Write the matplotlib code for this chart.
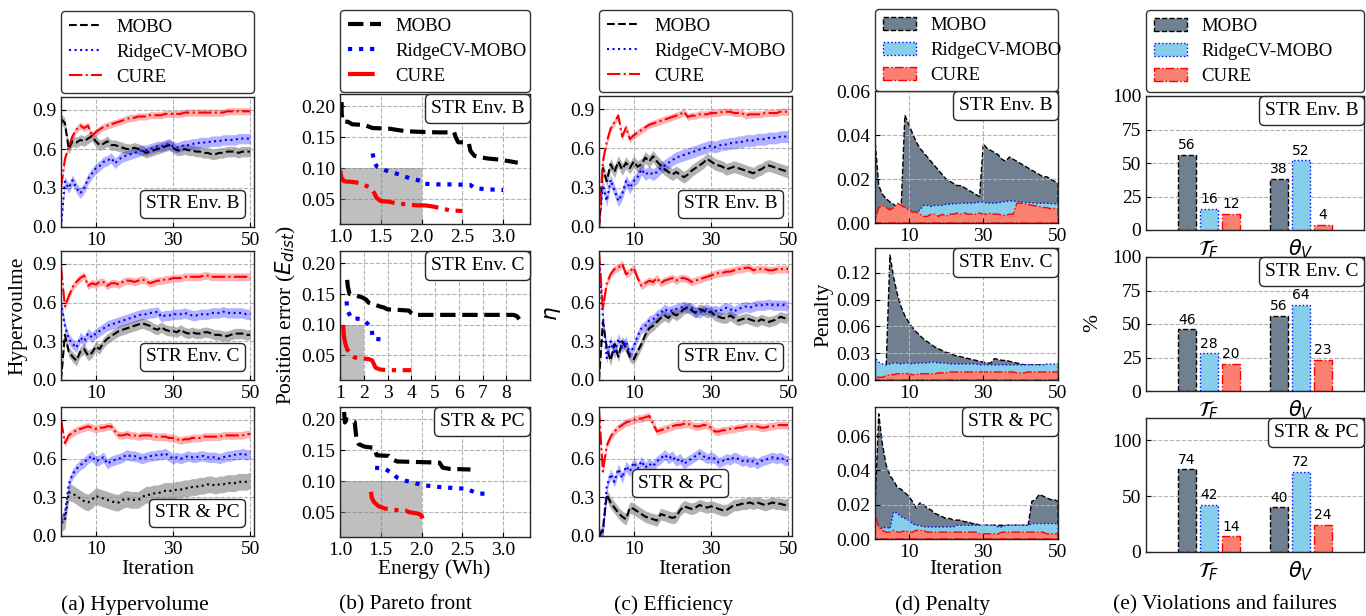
import matplotlib
matplotlib.use("Agg")
import matplotlib.pyplot as plt
from matplotlib.patches import Patch
from matplotlib.lines import Line2D
from matplotlib.offsetbox import AnchoredText
from matplotlib.ticker import FormatStrFormatter
import numpy as np

plt.rcParams.update({
    "font.family": "serif",
    "font.serif": ["Liberation Serif", "DejaVu Serif"],
    "mathtext.fontset": "dejavusans",
    "axes.linewidth": 1.0,
    "axes.edgecolor": "0.15",
    "xtick.direction": "in",
    "ytick.direction": "in",
    "xtick.labelsize": 14,
    "ytick.labelsize": 14,
})

# ---------------------------------------------------------------- data
methods = ["MOBO", "RidgeCV-MOBO", "CURE"]
envs = ["STR Env. B", "STR Env. C", "STR & PC"]
iters = np.arange(1, 51)

# (a) hypervolume, mean per iteration
mobo_b_hv = [0.83,0.80,0.60,0.66,0.65,0.67,0.66,0.68,0.70,0.66,0.63,0.64,0.66,0.63,0.63,0.62,0.61,0.60,0.60,0.61,0.60,0.59,0.57,0.58,0.59,0.60,0.61,0.62,0.63,0.61,0.59,0.59,0.60,0.59,0.59,0.58,0.58,0.57,0.57,0.56,0.56,0.57,0.57,0.58,0.58,0.58,0.57,0.58,0.58,0.58]
ridge_b_hv = [0.00,0.35,0.30,0.36,0.30,0.26,0.30,0.37,0.41,0.45,0.47,0.50,0.51,0.53,0.49,0.52,0.54,0.55,0.56,0.57,0.58,0.59,0.59,0.60,0.61,0.62,0.62,0.63,0.64,0.62,0.61,0.62,0.63,0.63,0.64,0.64,0.65,0.65,0.65,0.66,0.66,0.66,0.67,0.67,0.67,0.67,0.68,0.68,0.68,0.68]
cure_b_hv = [0.30,0.52,0.62,0.70,0.75,0.78,0.76,0.78,0.70,0.73,0.75,0.77,0.78,0.79,0.80,0.81,0.82,0.83,0.84,0.84,0.85,0.85,0.85,0.86,0.86,0.86,0.86,0.87,0.87,0.87,0.87,0.87,0.88,0.88,0.88,0.88,0.88,0.88,0.88,0.88,0.88,0.88,0.88,0.89,0.89,0.89,0.89,0.89,0.89,0.89]
mobo_c_hv = [0.00,0.35,0.22,0.18,0.15,0.22,0.24,0.19,0.21,0.26,0.24,0.29,0.32,0.34,0.36,0.38,0.39,0.40,0.41,0.42,0.43,0.44,0.43,0.42,0.40,0.39,0.41,0.39,0.38,0.38,0.37,0.39,0.37,0.36,0.37,0.36,0.36,0.37,0.37,0.36,0.35,0.35,0.34,0.34,0.35,0.36,0.36,0.36,0.35,0.35]
ridge_c_hv = [0.60,0.42,0.32,0.28,0.25,0.33,0.30,0.36,0.33,0.36,0.38,0.40,0.42,0.43,0.44,0.45,0.46,0.47,0.48,0.49,0.50,0.51,0.51,0.52,0.52,0.53,0.49,0.50,0.50,0.51,0.51,0.51,0.52,0.51,0.50,0.50,0.51,0.51,0.51,0.52,0.52,0.52,0.53,0.52,0.52,0.52,0.52,0.52,0.51,0.51]
cure_c_hv = [0.88,0.57,0.65,0.72,0.76,0.79,0.81,0.73,0.75,0.74,0.76,0.76,0.73,0.75,0.75,0.74,0.76,0.77,0.77,0.76,0.77,0.78,0.77,0.75,0.76,0.77,0.77,0.78,0.78,0.79,0.79,0.79,0.80,0.80,0.80,0.80,0.80,0.81,0.81,0.80,0.80,0.80,0.80,0.80,0.80,0.80,0.80,0.80,0.80,0.80]
mobo_pc_hv = [0.10,0.12,0.34,0.33,0.31,0.29,0.27,0.26,0.28,0.31,0.30,0.29,0.28,0.27,0.26,0.26,0.28,0.29,0.28,0.28,0.28,0.30,0.32,0.32,0.33,0.33,0.34,0.35,0.35,0.35,0.36,0.36,0.37,0.37,0.38,0.38,0.39,0.39,0.40,0.40,0.39,0.40,0.40,0.41,0.41,0.41,0.42,0.42,0.42,0.43]
ridge_pc_hv = [0.12,0.17,0.40,0.48,0.52,0.55,0.57,0.60,0.62,0.58,0.59,0.61,0.56,0.58,0.59,0.60,0.61,0.63,0.62,0.62,0.61,0.60,0.61,0.62,0.62,0.63,0.63,0.64,0.62,0.60,0.61,0.60,0.61,0.62,0.61,0.61,0.62,0.62,0.61,0.61,0.61,0.60,0.61,0.62,0.62,0.63,0.63,0.64,0.63,0.63]
cure_pc_hv = [0.90,0.72,0.78,0.80,0.82,0.83,0.84,0.85,0.84,0.83,0.84,0.84,0.85,0.85,0.81,0.78,0.78,0.79,0.78,0.78,0.77,0.78,0.78,0.78,0.77,0.77,0.77,0.77,0.76,0.76,0.75,0.74,0.75,0.75,0.76,0.76,0.76,0.77,0.77,0.77,0.77,0.77,0.78,0.78,0.78,0.78,0.78,0.78,0.79,0.79]
# half-width of the spread band (MOBO, RidgeCV-MOBO, CURE) per environment
hv_band_b = [0.040, 0.040, 0.027]
hv_band_c = [0.040, 0.040, 0.030]
hv_band_pc = [0.065, 0.040, 0.030]

# (b) Pareto fronts: energy (Wh) vs position error
mobo_b_E = [1.02,1.02,1.03,1.10,1.15,1.30,1.40,1.60,1.80,1.95,2.20,2.40,2.42,2.45,2.55,2.58,2.60,2.65,2.80,2.95,3.05,3.18]
mobo_b_P = [0.207,0.190,0.176,0.175,0.171,0.170,0.165,0.164,0.160,0.159,0.158,0.158,0.150,0.142,0.142,0.140,0.128,0.120,0.116,0.114,0.112,0.109]
ridge_b_E = [1.40,1.42,1.45,1.55,1.65,1.75,1.85,1.95,2.00,2.02,2.20,2.40,2.60,2.65,2.80,3.00]
ridge_b_P = [0.124,0.110,0.103,0.097,0.093,0.089,0.084,0.081,0.079,0.075,0.074,0.074,0.073,0.068,0.066,0.065]
cure_b_E = [1.00,1.02,1.05,1.15,1.25,1.30,1.38,1.42,1.45,1.50,1.60,1.70,1.80,1.95,2.05,2.15,2.25,2.35,2.50]
cure_b_P = [0.097,0.084,0.079,0.078,0.076,0.073,0.068,0.060,0.052,0.047,0.046,0.043,0.042,0.040,0.040,0.038,0.035,0.032,0.031]
mobo_c_E = [1.30,1.33,1.40,1.60,1.90,2.10,2.20,2.45,2.65,2.85,3.00,3.50,3.90,4.00,4.10,5.00,6.00,7.00,8.30,8.45,8.55]
mobo_c_P = [0.173,0.162,0.150,0.148,0.145,0.141,0.136,0.133,0.130,0.128,0.125,0.124,0.123,0.119,0.116,0.116,0.116,0.116,0.116,0.114,0.109]
ridge_c_E = [1.28,1.30,1.35,1.50,1.70,1.85,2.05,2.20,2.33,2.38,2.50,2.75]
ridge_c_P = [0.138,0.124,0.120,0.110,0.110,0.109,0.106,0.100,0.093,0.078,0.077,0.076]
cure_c_E = [1.14,1.15,1.17,1.22,1.30,1.45,1.60,1.80,2.00,2.20,2.35,2.40,2.50,2.70,3.00,3.50,4.00]
cure_c_P = [0.098,0.090,0.080,0.070,0.060,0.052,0.047,0.045,0.045,0.044,0.042,0.038,0.030,0.027,0.026,0.026,0.026]
mobo_pc_E = [1.05,1.06,1.08,1.18,1.20,1.23,1.30,1.42,1.45,1.60,1.65,1.70,2.00,2.22,2.26,2.35,2.60]
mobo_pc_P = [0.212,0.195,0.200,0.196,0.170,0.160,0.156,0.154,0.142,0.141,0.135,0.132,0.131,0.130,0.122,0.120,0.119]
ridge_pc_E = [1.43,1.55,1.63,1.70,1.80,1.90,2.00,2.20,2.40,2.55,2.62,2.70,2.80]
ridge_pc_P = [0.122,0.120,0.114,0.106,0.101,0.098,0.094,0.091,0.089,0.088,0.084,0.080,0.080]
cure_pc_E = [1.38,1.39,1.42,1.47,1.55,1.65,1.75,1.80,1.85,1.90,1.95,2.00,2.01]
cure_pc_P = [0.083,0.073,0.066,0.060,0.056,0.054,0.053,0.053,0.050,0.049,0.048,0.045,0.040]
# target region: energy up to 2 Wh, error up to 0.10
target_E = (1.0, 2.0)
target_P = 0.10

# (c) efficiency eta
mobo_b_eta = [0.00,0.45,0.35,0.48,0.42,0.50,0.44,0.49,0.45,0.50,0.46,0.48,0.53,0.50,0.54,0.50,0.47,0.44,0.42,0.40,0.42,0.40,0.38,0.40,0.43,0.45,0.47,0.49,0.52,0.50,0.48,0.47,0.46,0.44,0.45,0.46,0.45,0.44,0.43,0.42,0.41,0.43,0.44,0.46,0.47,0.46,0.45,0.44,0.43,0.42]
ridge_b_eta = [0.00,0.32,0.20,0.36,0.28,0.20,0.25,0.35,0.30,0.35,0.38,0.44,0.40,0.42,0.40,0.42,0.45,0.47,0.49,0.51,0.53,0.54,0.55,0.56,0.57,0.58,0.59,0.60,0.61,0.62,0.61,0.62,0.63,0.63,0.64,0.64,0.65,0.65,0.66,0.66,0.66,0.67,0.67,0.67,0.68,0.68,0.68,0.69,0.69,0.69]
cure_b_eta = [0.00,0.50,0.65,0.75,0.80,0.85,0.69,0.76,0.67,0.70,0.72,0.74,0.76,0.78,0.79,0.80,0.81,0.82,0.83,0.84,0.85,0.86,0.88,0.84,0.85,0.85,0.86,0.86,0.86,0.87,0.87,0.87,0.88,0.88,0.88,0.87,0.87,0.87,0.85,0.86,0.86,0.86,0.86,0.87,0.87,0.87,0.87,0.88,0.88,0.88]
mobo_c_eta = [0.00,0.45,0.25,0.15,0.28,0.18,0.30,0.25,0.18,0.16,0.22,0.28,0.35,0.40,0.42,0.45,0.48,0.50,0.48,0.52,0.50,0.52,0.55,0.56,0.54,0.52,0.55,0.54,0.52,0.53,0.50,0.49,0.48,0.48,0.50,0.48,0.46,0.47,0.48,0.47,0.46,0.45,0.47,0.46,0.45,0.46,0.47,0.49,0.48,0.48]
ridge_c_eta = [0.90,0.50,0.17,0.30,0.20,0.32,0.25,0.30,0.20,0.26,0.34,0.40,0.42,0.46,0.47,0.50,0.52,0.55,0.53,0.54,0.55,0.56,0.57,0.56,0.56,0.53,0.52,0.54,0.55,0.53,0.54,0.53,0.55,0.56,0.55,0.53,0.55,0.56,0.57,0.56,0.57,0.58,0.58,0.58,0.59,0.58,0.58,0.58,0.58,0.57]
cure_c_eta = [1.00,0.55,0.75,0.82,0.86,0.87,0.90,0.82,0.84,0.87,0.79,0.73,0.75,0.77,0.76,0.79,0.75,0.77,0.78,0.79,0.77,0.79,0.79,0.78,0.76,0.77,0.78,0.79,0.80,0.81,0.82,0.83,0.83,0.84,0.84,0.85,0.86,0.86,0.87,0.87,0.85,0.86,0.86,0.86,0.85,0.85,0.86,0.86,0.86,0.86]
mobo_pc_eta = [0.00,0.05,0.32,0.26,0.22,0.18,0.15,0.13,0.22,0.21,0.19,0.17,0.15,0.14,0.13,0.12,0.17,0.16,0.15,0.14,0.15,0.20,0.23,0.22,0.21,0.22,0.24,0.23,0.22,0.23,0.22,0.21,0.20,0.20,0.22,0.24,0.24,0.25,0.25,0.26,0.25,0.26,0.25,0.24,0.25,0.26,0.25,0.25,0.24,0.25]
ridge_pc_eta = [0.00,0.02,0.38,0.48,0.42,0.52,0.45,0.54,0.50,0.57,0.52,0.58,0.53,0.56,0.54,0.58,0.60,0.63,0.60,0.62,0.58,0.60,0.56,0.58,0.60,0.62,0.64,0.62,0.60,0.61,0.60,0.57,0.58,0.60,0.59,0.61,0.60,0.58,0.59,0.57,0.58,0.56,0.58,0.59,0.60,0.61,0.60,0.61,0.59,0.58]
cure_pc_eta = [0.98,0.50,0.70,0.77,0.81,0.84,0.86,0.88,0.89,0.90,0.91,0.91,0.92,0.93,0.87,0.81,0.82,0.83,0.84,0.85,0.86,0.86,0.87,0.87,0.86,0.85,0.85,0.86,0.86,0.84,0.81,0.81,0.82,0.82,0.83,0.83,0.84,0.84,0.85,0.85,0.85,0.85,0.84,0.84,0.85,0.85,0.86,0.86,0.86,0.86]
eta_band_b = [0.045, 0.045, 0.027]
eta_band_c = [0.040, 0.040, 0.030]
eta_band_pc = [0.045, 0.040, 0.030]

# (d) penalty
mobo_b_pen = [0.038,0.017,0.013,0.011,0.0096,0.0085,0.0066,0.0070,0.049,0.045,0.041,0.037,0.034,0.032,0.030,0.028,0.026,0.024,0.022,0.020,0.019,0.018,0.017,0.017,0.016,0.015,0.014,0.013,0.012,0.036,0.034,0.033,0.032,0.031,0.029,0.028,0.030,0.029,0.028,0.027,0.026,0.025,0.024,0.023,0.022,0.021,0.021,0.020,0.019,0.018]
ridge_b_pen = [0.001,0.003,0.004,0.004,0.003,0.003,0.004,0.004,0.004,0.004,0.004,0.004,0.006,0.008,0.008,0.0075,0.008,0.008,0.008,0.0085,0.0085,0.0088,0.0088,0.009,0.009,0.009,0.009,0.0092,0.0095,0.0095,0.009,0.009,0.009,0.0092,0.0095,0.0098,0.010,0.010,0.0098,0.0095,0.0095,0.0093,0.0092,0.009,0.009,0.009,0.009,0.0088,0.0088,0.0085]
cure_b_pen = [0.001,0.007,0.008,0.007,0.006,0.007,0.009,0.008,0.007,0.006,0.005,0.005,0.004,0.003,0.003,0.004,0.004,0.003,0.004,0.003,0.004,0.004,0.0045,0.004,0.0045,0.004,0.004,0.004,0.0045,0.004,0.004,0.0045,0.004,0.004,0.0035,0.0035,0.004,0.004,0.009,0.009,0.0088,0.0085,0.008,0.0078,0.0075,0.007,0.007,0.0065,0.0065,0.0065]
mobo_c_pen = [0.015,0.015,0.015,0.016,0.140,0.115,0.096,0.082,0.072,0.065,0.059,0.054,0.050,0.046,0.043,0.040,0.037,0.035,0.033,0.031,0.030,0.028,0.027,0.026,0.025,0.024,0.023,0.022,0.021,0.020,0.019,0.019,0.024,0.023,0.022,0.022,0.021,0.020,0.019,0.018,0.017,0.017,0.017,0.017,0.017,0.017,0.017,0.017,0.017,0.017]
ridge_c_pen = [0.025,0.020,0.018,0.017,0.018,0.019,0.019,0.018,0.019,0.019,0.018,0.019,0.019,0.019,0.019,0.020,0.020,0.019,0.019,0.019,0.018,0.018,0.018,0.018,0.018,0.018,0.018,0.018,0.017,0.017,0.017,0.017,0.017,0.017,0.017,0.017,0.017,0.017,0.017,0.017,0.017,0.017,0.017,0.017,0.017,0.017,0.018,0.018,0.018,0.018]
cure_c_pen = [0.004,0.003,0.003,0.005,0.006,0.006,0.007,0.007,0.007,0.007,0.006,0.006,0.007,0.007,0.007,0.007,0.007,0.008,0.008,0.008,0.009,0.009,0.009,0.009,0.009,0.009,0.009,0.009,0.009,0.009,0.009,0.009,0.009,0.009,0.009,0.009,0.009,0.009,0.008,0.008,0.008,0.009,0.009,0.009,0.009,0.009,0.009,0.009,0.009,0.009]
mobo_pc_pen = [0.018,0.073,0.055,0.043,0.037,0.034,0.030,0.029,0.027,0.025,0.022,0.018,0.021,0.020,0.018,0.017,0.015,0.014,0.013,0.012,0.012,0.011,0.011,0.011,0.010,0.010,0.009,0.009,0.008,0.008,0.008,0.008,0.008,0.008,0.008,0.008,0.008,0.008,0.008,0.008,0.008,0.008,0.022,0.023,0.026,0.025,0.024,0.023,0.023,0.022]
ridge_pc_pen = [0.010,0.007,0.006,0.007,0.006,0.016,0.015,0.013,0.012,0.011,0.009,0.008,0.008,0.007,0.007,0.007,0.007,0.007,0.007,0.007,0.007,0.007,0.008,0.008,0.008,0.008,0.008,0.008,0.008,0.008,0.008,0.008,0.008,0.007,0.007,0.008,0.008,0.008,0.008,0.008,0.008,0.008,0.009,0.009,0.009,0.009,0.009,0.009,0.009,0.009]
cure_pc_pen = [0.014,0.007,0.005,0.004,0.004,0.005,0.004,0.004,0.005,0.004,0.004,0.005,0.005,0.005,0.004,0.004,0.004,0.004,0.004,0.004,0.004,0.004,0.004,0.004,0.004,0.004,0.004,0.004,0.003,0.003,0.003,0.003,0.003,0.003,0.004,0.004,0.004,0.004,0.004,0.004,0.004,0.004,0.004,0.004,0.004,0.004,0.003,0.003,0.003,0.003]

# (e) violations and failures (%) for T_F and theta_V
viol_labels = [r"$\mathcal{T}_F$", r"$\theta_V$"]
mobo_b_viol = [56, 38]
ridge_b_viol = [16, 52]
cure_b_viol = [12, 4]
mobo_c_viol = [46, 56]
ridge_c_viol = [28, 64]
cure_c_viol = [20, 23]
mobo_pc_viol = [74, 40]
ridge_pc_viol = [42, 72]
cure_pc_viol = [14, 24]

# ---------------------------------------------------------------- styles
W, H = 1366, 616
fig = plt.figure(figsize=(W / 100, H / 100), dpi=100)

line_color = {"MOBO": "black", "RidgeCV-MOBO": "blue", "CURE": "red"}
band_color = {"MOBO": ("gray", 0.6), "RidgeCV-MOBO": ("blue", 0.3), "CURE": ("red", 0.3)}
line_style = {"MOBO": "--", "RidgeCV-MOBO": ":", "CURE": "-."}
fill_face = {"MOBO": "slategray", "RidgeCV-MOBO": "skyblue", "CURE": "salmon"}

GRID = dict(color="0.7", linestyle="--", linewidth=0.8)
LEG = dict(fontsize=13.5, fancybox=True, framealpha=1, edgecolor="0.2",
           labelspacing=0.42, handlelength=1.8, handletextpad=0.75,
           borderpad=0.4, borderaxespad=0, mode="expand", loc="upper left")


def add_ax(l, t, r, b):
    return fig.add_axes([l / W, 1 - b / H, (r - l) / W, (b - t) / H])


def env_box(ax, text, loc, borderpad=0.0, anchor=None):
    kw = {}
    if anchor is not None:
        kw = dict(bbox_to_anchor=anchor, bbox_transform=ax.transAxes)
    at = AnchoredText(text, loc=loc, pad=0.3, borderpad=borderpad,
                      prop=dict(size=14), frameon=True, **kw)
    at.patch.set_boxstyle("round,pad=0,rounding_size=0.25")
    at.patch.set_edgecolor("0.15")
    at.patch.set_linewidth(1.0)
    ax.add_artist(at)


def fig_legend(handles, l, t, r):
    fig.legend(handles, methods, bbox_to_anchor=(l / W, 1 - t / H, (r - l) / W, 0.0),
               **LEG).get_frame().set_linewidth(1.0)


def curve_panel(ax, series, bands, mobo_ls="--"):
    for m, y, b in zip(methods, series, bands):
        y = np.asarray(y)
        c, a = band_color[m]
        ax.fill_between(iters, y - b, y + b, color=c, alpha=a, lw=0)
    for m, y in zip(methods, series):
        ls = mobo_ls if m == "MOBO" else line_style[m]
        ax.plot(iters, y, ls=ls, color=line_color[m], lw=1.5)
    ax.set_xlim(1, 51)
    ax.set_ylim(0, 1.0)
    ax.set_xticks([10, 30, 50])
    ax.set_yticks([0.0, 0.3, 0.6, 0.9])
    ax.yaxis.set_major_formatter(FormatStrFormatter("%.1f"))
    ax.grid(True, **GRID)
    ax.set_axisbelow(True)


# ---------------------------------------------------------------- layout (pixels)
col_a = (61, 254, [(97, 227), (251, 380), (407, 536)])
col_b = (340, 530, [(94, 224), (251, 380), (407, 537)])
col_c = (599, 792, [(96, 227), (251, 380), (407, 536)])
col_d = (875, 1058, [(91, 223), (248, 380), (407, 539)])
col_e = (1146, 1364, [(96, 230), (257, 391), (418, 552)])

line_handles = [Line2D([], [], color=line_color[m], ls=line_style[m], lw=1.5) for m in methods]
thick_handles = [Line2D([], [], color=line_color[m], ls=line_style[m], lw=3) for m in methods]
patch_handles = [Patch(facecolor=fill_face[m], edgecolor=line_color[m], linestyle=line_style[m], lw=1)
                 for m in methods]

# (a) Hypervolume
hv_data = [(mobo_b_hv, ridge_b_hv, cure_b_hv), (mobo_c_hv, ridge_c_hv, cure_c_hv),
           (mobo_pc_hv, ridge_pc_hv, cure_pc_hv)]
hv_bands = [hv_band_b, hv_band_c, hv_band_pc]
l, r, rows = col_a
for k, (t, b) in enumerate(rows):
    ax = add_ax(l, t, r, b)
    curve_panel(ax, hv_data[k], hv_bands[k], mobo_ls=":" if k == 2 else "--")
    env_box(ax, envs[k], "lower right", borderpad=0.45)
fig_legend(line_handles, l, 11, r)

# (b) Pareto front
pf_data = [((mobo_b_E, mobo_b_P), (ridge_b_E, ridge_b_P), (cure_b_E, cure_b_P)),
           ((mobo_c_E, mobo_c_P), (ridge_c_E, ridge_c_P), (cure_c_E, cure_c_P)),
           ((mobo_pc_E, mobo_pc_P), (ridge_pc_E, ridge_pc_P), (cure_pc_E, cure_pc_P))]
l, r, rows = col_b
for k, (t, b) in enumerate(rows):
    ax = add_ax(l, t, r, b)
    ax.fill_between(list(target_E), 0, target_P, color="gray", alpha=0.5, lw=0)
    for m, (E, P) in zip(methods, pf_data[k]):
        ax.plot(E, P, ls=line_style[m], color=line_color[m], lw=3)
    ax.set_ylim(0.01, 0.22)
    ax.set_yticks([0.05, 0.10, 0.15, 0.20])
    ax.yaxis.set_major_formatter(FormatStrFormatter("%.2f"))
    if k == 1:
        ax.set_xlim(1.0, 9.0)
        ax.set_xticks(range(1, 9))
    else:
        ax.set_xlim(1.0, 3.33)
        ax.set_xticks([1.0, 1.5, 2.0, 2.5, 3.0])
        ax.xaxis.set_major_formatter(FormatStrFormatter("%.1f"))
    ax.grid(True, **GRID)
    ax.set_axisbelow(True)
    env_box(ax, envs[k], "upper right", borderpad=0.0)
fig_legend(thick_handles, l, 10, r)

# (c) Efficiency
eta_data = [(mobo_b_eta, ridge_b_eta, cure_b_eta), (mobo_c_eta, ridge_c_eta, cure_c_eta),
            (mobo_pc_eta, ridge_pc_eta, cure_pc_eta)]
eta_bands = [eta_band_b, eta_band_c, eta_band_pc]
l, r, rows = col_c
for k, (t, b) in enumerate(rows):
    ax = add_ax(l, t, r, b)
    curve_panel(ax, eta_data[k], eta_bands[k])
    if k < 2:
        env_box(ax, envs[k], "lower right", borderpad=0.45)
    else:
        env_box(ax, envs[k], "center", anchor=(0.42, 0.41))
fig_legend(line_handles, l, 10, r)

# (d) Penalty
pen_data = [(mobo_b_pen, ridge_b_pen, cure_b_pen), (mobo_c_pen, ridge_c_pen, cure_c_pen),
            (mobo_pc_pen, ridge_pc_pen, cure_pc_pen)]
pen_ylim = [(0, 0.06), (0, 0.148), (0, 0.077)]
pen_ticks = [[0, 0.02, 0.04, 0.06], [0, 0.03, 0.06, 0.09, 0.12], [0, 0.02, 0.04, 0.06]]
l, r, rows = col_d
for k, (t, b) in enumerate(rows):
    ax = add_ax(l, t, r, b)
    for m, y in zip(methods, pen_data[k]):
        ax.fill_between(iters, 0, y, facecolor=fill_face[m], edgecolor=line_color[m],
                        linestyle=line_style[m], lw=1.0)
    ax.set_xlim(1, 50)
    ax.set_ylim(*pen_ylim[k])
    ax.set_xticks([10, 30, 50])
    ax.set_yticks(pen_ticks[k])
    ax.yaxis.set_major_formatter(FormatStrFormatter("%.2f"))
    ax.grid(True, **GRID)
    ax.set_axisbelow(False)
    for gl in ax.get_xgridlines() + ax.get_ygridlines():
        gl.set_zorder(0.5)
    env_box(ax, envs[k], "upper right", borderpad=0.0)
fig_legend(patch_handles, l, 9, r)

# (e) Violations and failures
viol_data = [(mobo_b_viol, ridge_b_viol, cure_b_viol), (mobo_c_viol, ridge_c_viol, cure_c_viol),
             (mobo_pc_viol, ridge_pc_viol, cure_pc_viol)]
viol_ylim = [(0, 100), (0, 100), (0, 120)]
viol_ticks = [[0, 25, 50, 75, 100], [0, 25, 50, 75, 100], [0, 50, 100]]
offsets = [-0.24, 0.0, 0.24]
xpos = np.arange(len(viol_labels))
l, r, rows = col_e
for k, (t, b) in enumerate(rows):
    ax = add_ax(l, t, r, b)
    for m, vals, off in zip(methods, viol_data[k], offsets):
        bars = ax.bar(xpos + off, vals, width=0.2, facecolor=fill_face[m],
                      edgecolor=line_color[m], linestyle=line_style[m], lw=1.0, zorder=2)
        ax.bar_label(bars, padding=2, fontsize=10, family="DejaVu Sans")
    ax.set_xlim(-0.685, 1.685)
    ax.set_ylim(*viol_ylim[k])
    ax.set_yticks(viol_ticks[k])
    ax.set_xticks(xpos)
    ax.set_xticklabels(viol_labels, fontsize=15)
    ax.tick_params(axis="x", length=0, pad=5)
    ax.yaxis.grid(True, **GRID)
    ax.set_axisbelow(True)
    env_box(ax, envs[k], "upper right", borderpad=0.0)
fig_legend(patch_handles, l, 10, r)

# ---------------------------------------------------------------- labels
LBL = 15.5
fig.text(18 / W, 1 - 316 / H, "Hypervoulme", rotation=90, ha="center", va="center", fontsize=LBL)
fig.text(286 / W, 1 - 315 / H, r"Position error ($E_{dist}$)", rotation=90, ha="center", va="center", fontsize=LBL)
fig.text(553 / W, 1 - 314 / H, r"$\eta$", rotation=90, ha="center", va="center", fontsize=LBL)
fig.text(824 / W, 1 - 315 / H, "Penalty", rotation=90, ha="center", va="center", fontsize=LBL)
fig.text(1093 / W, 1 - 323 / H, "%", rotation=90, ha="center", va="center", fontsize=LBL)

XL_Y = 569
fig.text(158 / W, 1 - XL_Y / H, "Iteration", ha="center", va="center", fontsize=LBL)
fig.text(434 / W, 1 - XL_Y / H, "Energy (Wh)", ha="center", va="center", fontsize=LBL)
fig.text(695 / W, 1 - XL_Y / H, "Iteration", ha="center", va="center", fontsize=LBL)
fig.text(966 / W, 1 - XL_Y / H, "Iteration", ha="center", va="center", fontsize=LBL)

captions = ["(a) Hypervolume", "(b) Pareto front", "(c) Efficiency", "(d) Penalty",
            "(e) Violations and failures"]
cap_x = [135, 405, 673, 943, 1225]
for cx, cap in zip(cap_x, captions):
    fig.text(cx / W, 1 - 605 / H, cap, ha="center", va="center", fontsize=LBL)

fig.savefig("out.png", dpi=100)
